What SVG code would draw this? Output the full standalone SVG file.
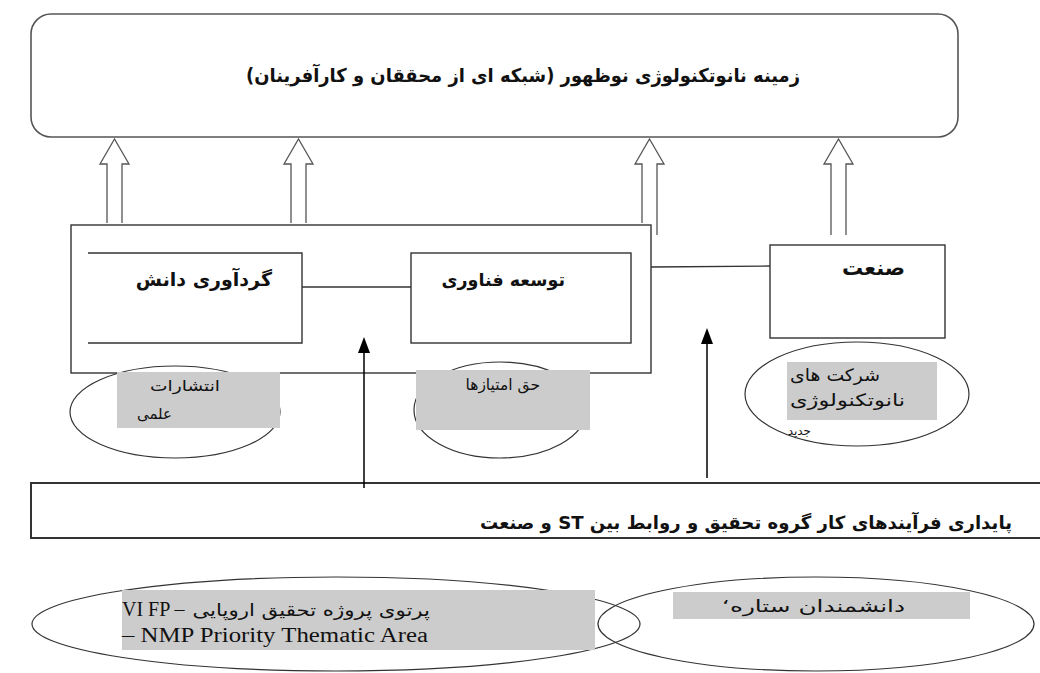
<svg xmlns="http://www.w3.org/2000/svg" width="1040" height="673" viewBox="0 0 1040 673">
  <style>
    .box { fill: none; stroke: #333; stroke-width: 1.4; }
    .frame { fill: none; stroke: #555; stroke-width: 1.6; }
    .oval { fill: none; stroke: #333; stroke-width: 1.2; }
    .tag { fill: #cccccc; stroke: none; }
    .hollow { fill: #fff; stroke: #555; stroke-width: 1.3; }
    .link { fill: none; stroke: #333; stroke-width: 1.3; }
    .head { fill: #000; stroke: none; }
    .fa { font-family: "DejaVu Sans", "Liberation Sans", sans-serif; fill: #111; }
    .bold { font-weight: bold; }
    .serif { font-family: "Liberation Serif", "DejaVu Serif", serif; fill: #111; }
  </style>
  <rect width="1040" height="673" fill="#fff"/>

  <!-- top: emerging nanotech field -->
  <g id="field">
    <rect class="frame" x="31" y="14" width="927" height="123" rx="20" ry="20"/>
    <text class="fa bold" x="800" y="82" font-size="19" text-anchor="start" direction="rtl" textLength="554" lengthAdjust="spacingAndGlyphs">زمینه نانوتکنولوژی نوظهور (شبکه ای از محققان و کارآفرینان)</text>
  </g>

  <!-- hollow upward arrows into the field -->
  <g id="upArrows">
    <path class="hollow" d="M107,223 V164 H100 L114.5,139 L129,164 H122 V223"/>
    <path class="hollow" d="M291,223 V164 H284 L298.5,139 L313,164 H306 V223"/>
    <path class="hollow" d="M642,223 V164 H635 L649.5,139 L664,164 H657 V235"/>
    <path class="hollow" d="M831,235 V164 H824 L838.5,139 L853,164 H846 V235"/>
  </g>

  <!-- academic / technology block -->
  <g id="academia">
    <rect class="box" x="71" y="225" width="580" height="148" fill="#fff"/>
  </g>
  <g id="knowledge">
    <path class="box" d="M88,253 H302 V343 H88"/>
    <text class="fa bold" x="272" y="286" font-size="19" text-anchor="start" direction="rtl">گردآوری دانش</text>
  </g>
  <g id="technology">
    <rect class="box" x="411" y="253" width="220" height="90"/>
    <text class="fa bold" x="565" y="286" font-size="17.5" text-anchor="start" direction="rtl">توسعه فناوری</text>
  </g>
  <g id="industry">
    <rect class="box" x="770" y="245" width="175" height="93"/>
    <text class="fa bold" x="905" y="275" font-size="21" text-anchor="start" direction="rtl">صنعت</text>
  </g>

  <!-- outputs -->
  <g id="publications">
    <ellipse class="oval" cx="175" cy="412" rx="105" ry="46"/>
    <rect class="tag" x="117" y="372" width="163" height="56"/>
    <text class="fa" x="220" y="391" font-size="15" text-anchor="start" direction="rtl" textLength="70" lengthAdjust="spacingAndGlyphs">انتشارات</text>
    <text class="fa" x="172" y="419" font-size="15" text-anchor="start" direction="rtl">علمی</text>
  </g>
  <g id="patents">
    <ellipse class="oval" cx="500" cy="410" rx="86" ry="48"/>
    <rect class="tag" x="416" y="370" width="174" height="60"/>
    <text class="fa" x="540" y="390" font-size="15.5" text-anchor="start" direction="rtl">حق امتیازها</text>
  </g>
  <g id="startups">
    <ellipse class="oval" cx="857" cy="394" rx="112" ry="52"/>
    <rect class="tag" x="787" y="362" width="150" height="58"/>
    <text class="fa" x="880" y="381" font-size="17" text-anchor="start" direction="rtl" textLength="90" lengthAdjust="spacingAndGlyphs">شرکت  های</text>
    <text class="fa" x="905" y="406" font-size="17" text-anchor="start" direction="rtl" textLength="115" lengthAdjust="spacingAndGlyphs">نانوتکنولوژی</text>
    <text class="fa" x="811" y="435" font-size="12" text-anchor="start" direction="rtl">جدید</text>
  </g>

  <!-- sustainability base -->
  <g id="base">
    <rect x="31" y="483" width="1014" height="55" fill="#fff" stroke="#333" stroke-width="2"/>
    <text class="fa bold" x="1012" y="529" font-size="18" text-anchor="start" direction="rtl" textLength="532" lengthAdjust="spacingAndGlyphs">پایداری فرآیندهای کار گروه تحقیق و روابط بین ST و صنعت</text>
  </g>

  <!-- bottom programmes -->
  <g id="fp6">
    <ellipse class="oval" cx="336" cy="624" rx="304" ry="47"/>
    <rect class="tag" x="122" y="590" width="473" height="60"/>
    <text class="serif" x="122" y="616" font-size="20">VI FP –</text>
    <text class="fa" transform="translate(430,616) scale(1.25,1)" x="0" y="0" font-size="17" text-anchor="start" direction="rtl">پرتوی پروژه تحقیق اروپایی</text>
    <text class="serif" x="122" y="642" font-size="20" textLength="306" lengthAdjust="spacingAndGlyphs">– NMP Priority Thematic Area</text>
  </g>
  <g id="starScientists">
    <ellipse class="oval" cx="816" cy="624" rx="218" ry="47"/>
    <rect class="tag" x="673" y="592" width="297" height="27"/>
    <text class="fa" transform="translate(905,612) scale(1.5,1)" x="0" y="0" font-size="16.5" text-anchor="start" direction="rtl">دانشمندان  ستاره‘</text>
  </g>

  <!-- connectors -->
  <g id="connectors">
    <line class="link" x1="302" y1="287" x2="411" y2="287"/>
    <line class="link" x1="651" y1="267" x2="770" y2="266"/>
    <line x1="364" y1="488" x2="364" y2="350" stroke="#000" stroke-width="1.5"/>
    <polygon class="head" points="358,353 364,337 370,353"/>
    <line x1="707" y1="478" x2="707" y2="341" stroke="#000" stroke-width="1.5"/>
    <polygon class="head" points="701,344 707,328 713,344"/>
  </g>
</svg>
